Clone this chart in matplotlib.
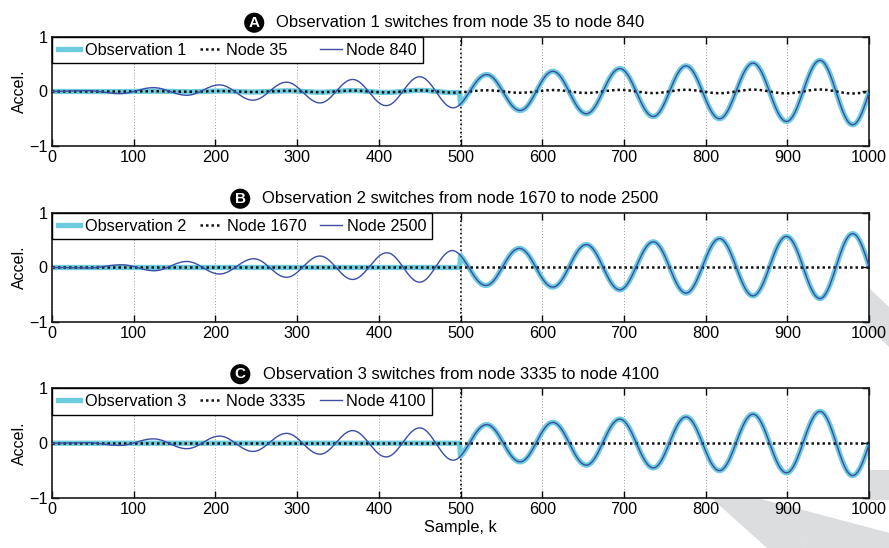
import numpy as np
import matplotlib.pyplot as plt
from matplotlib.patches import Polygon

plt.rcParams['font.family'] = ['Liberation Sans', 'DejaVu Sans']
plt.rcParams['font.size'] = 11.7

# samples
k = np.arange(0, 1001)
switch_k = 500

# extrema (sample, value); curves are drawn smoothly between them
ext_k_a = [1, 42, 83, 124, 165, 205, 246, 287, 328, 368, 409, 450, 491,
           532, 573, 613, 654, 695, 736, 776, 817, 858, 899, 940, 980, 1021]
node840 = [0.0, 0.015, -0.04, 0.07, -0.07, 0.12, -0.16, 0.17, -0.21, 0.22, -0.26, 0.27, -0.30,
           0.31, -0.35, 0.37, -0.41, 0.42, -0.46, 0.47, -0.50, 0.52, -0.55, 0.57, -0.61, 0.62]
node35 = [0.0, 0.002, -0.003, 0.005, -0.006, 0.008, -0.010, 0.012, -0.014, 0.016, -0.018, 0.020, -0.021,
          0.022, -0.024, 0.026, -0.027, 0.029, -0.030, 0.031, -0.032, 0.034, -0.035, 0.036, -0.037, 0.038]

ext_k_b = [3, 44, 85, 125, 165, 205, 247, 287, 328, 368, 410, 450, 490,
           531, 572, 613, 654, 695, 736, 776, 817, 858, 899, 940, 980, 1021]
node2500 = [0.0, -0.01, 0.05, -0.06, 0.11, -0.12, 0.16, -0.18, 0.21, -0.22, 0.27, -0.27, 0.31,
            -0.33, 0.35, -0.36, 0.42, -0.41, 0.47, -0.47, 0.53, -0.52, 0.57, -0.57, 0.62, -0.62]
node1670 = [0.0] * len(ext_k_b)

ext_k_c = ext_k_a
node4100 = [0.0, 0.01, -0.04, 0.08, -0.10, 0.13, -0.15, 0.18, -0.20, 0.23, -0.25, 0.28, -0.31,
            0.34, -0.34, 0.38, -0.40, 0.44, -0.45, 0.48, -0.50, 0.53, -0.54, 0.58, -0.59, 0.60]
node3335 = [0.0] * len(ext_k_c)

titles = ['Observation 1 switches from node 35 to node 840',
          'Observation 2 switches from node 1670 to node 2500',
          'Observation 3 switches from node 3335 to node 4100']
letters = ['A', 'B', 'C']
obs_labels = ['Observation 1', 'Observation 2', 'Observation 3']
old_labels = ['Node 35', 'Node 1670', 'Node 3335']
new_labels = ['Node 840', 'Node 2500', 'Node 4100']
xticks = list(range(0, 1001, 100))
yticks = [-1, 0, 1]

# the original legend leaves a wider gap after the short "Node 35" entry
label_pad = [4, 0, 0]


def smooth(kx, vx, kk):
    # half-cosine segments between consecutive extrema
    kx = np.asarray(kx, float)
    vx = np.asarray(vx, float)
    i = np.clip(np.searchsorted(kx, kk, side='right') - 1, 0, len(kx) - 2)
    t = np.clip((kk - kx[i]) / (kx[i + 1] - kx[i]), 0, 1)
    return vx[i] + (vx[i + 1] - vx[i]) * (1 - np.cos(np.pi * t)) / 2


panels = [(ext_k_a, node35, node840), (ext_k_b, node1670, node2500), (ext_k_c, node3335, node4100)]

cyan = '#6ccbdc'
blue = '#3a4ea3'

fig = plt.figure(figsize=(8.89, 5.48), dpi=100)
W, H = 889, 548

# grey page decoration behind the axes (pixel coords)
stripes = [
    [(835, 256), (905, 322), (905, 362), (835, 296)],
    [(680, 470), (732, 470), (807, 548), (767, 548)],
    [(757, 498), (905, 537), (905, 560), (807, 548)],
    [(866, 470), (905, 470), (905, 500), (866, 500)],
]
for poly in stripes:
    fig.add_artist(Polygon([(x / W, 1 - y / H) for x, y in poly], closed=True,
                           transform=fig.transFigure, facecolor='#dcdddf',
                           edgecolor='none', zorder=-5))

positions = [(0.0585, 0.7336, 0.919, 0.199),
             (0.0585, 0.4124, 0.919, 0.199),
             (0.0585, 0.0912, 0.919, 0.200)]

for n, (ekx, old_v, new_v) in enumerate(panels):
    ax = fig.add_axes(positions[n])
    y_old = smooth(ekx, old_v, k)
    y_new = smooth(ekx, new_v, k)
    y_obs = np.where(k < switch_k, y_old, y_new)

    ax.plot(k, y_obs, color=cyan, lw=3.8, label=obs_labels[n], zorder=2)
    ax.plot(k, y_old, color='#111111', lw=1.8, ls=(0, (1, 1.2)),
            label=old_labels[n] + ' ' * label_pad[n], zorder=3)
    ax.plot(k, y_new, color=blue, lw=1.0, label=new_labels[n], zorder=4)
    ax.axvline(switch_k, color='black', lw=1.2, ls=(0, (1, 1.5)), zorder=1)

    ax.set_xlim(0, 1000)
    ax.set_ylim(-1, 1)
    ax.set_xticks(xticks)
    ax.set_yticks(yticks)
    ax.set_yticklabels(['\u22121', '0', '1'])
    ax.grid(axis='x', color='#9a9a9a', lw=0.7, ls=(0, (1, 2)))
    ax.tick_params(direction='in', top=True, right=True, length=5, width=1, pad=3)
    for s in ax.spines.values():
        s.set_linewidth(1.2)
        s.set_color('#1a1a1a')
    ax.set_ylabel('Accel.', labelpad=2, fontsize=11.5)

    t = ax.set_title(titles[n], pad=7, fontsize=12)
    ax.annotate(letters[n], xy=(0, 0.5), xycoords=t, xytext=(-12, 0),
                textcoords='offset points', ha='right', va='center',
                color='white', fontsize=11, fontweight='bold',
                bbox=dict(boxstyle='circle,pad=0.2', fc='black', ec='none'))

    leg = ax.legend(loc='upper left', ncol=3, borderaxespad=0, fancybox=False,
                    edgecolor='black', framealpha=1, handlelength=1.35,
                    handletextpad=0.3, columnspacing=0.85, borderpad=0.35)
    leg.get_frame().set_linewidth(1.0)
    leg.set_zorder(10)

    if n == 2:
        ax.set_xlabel('Sample, k', labelpad=2)

fig.savefig('out.png', dpi=100)
